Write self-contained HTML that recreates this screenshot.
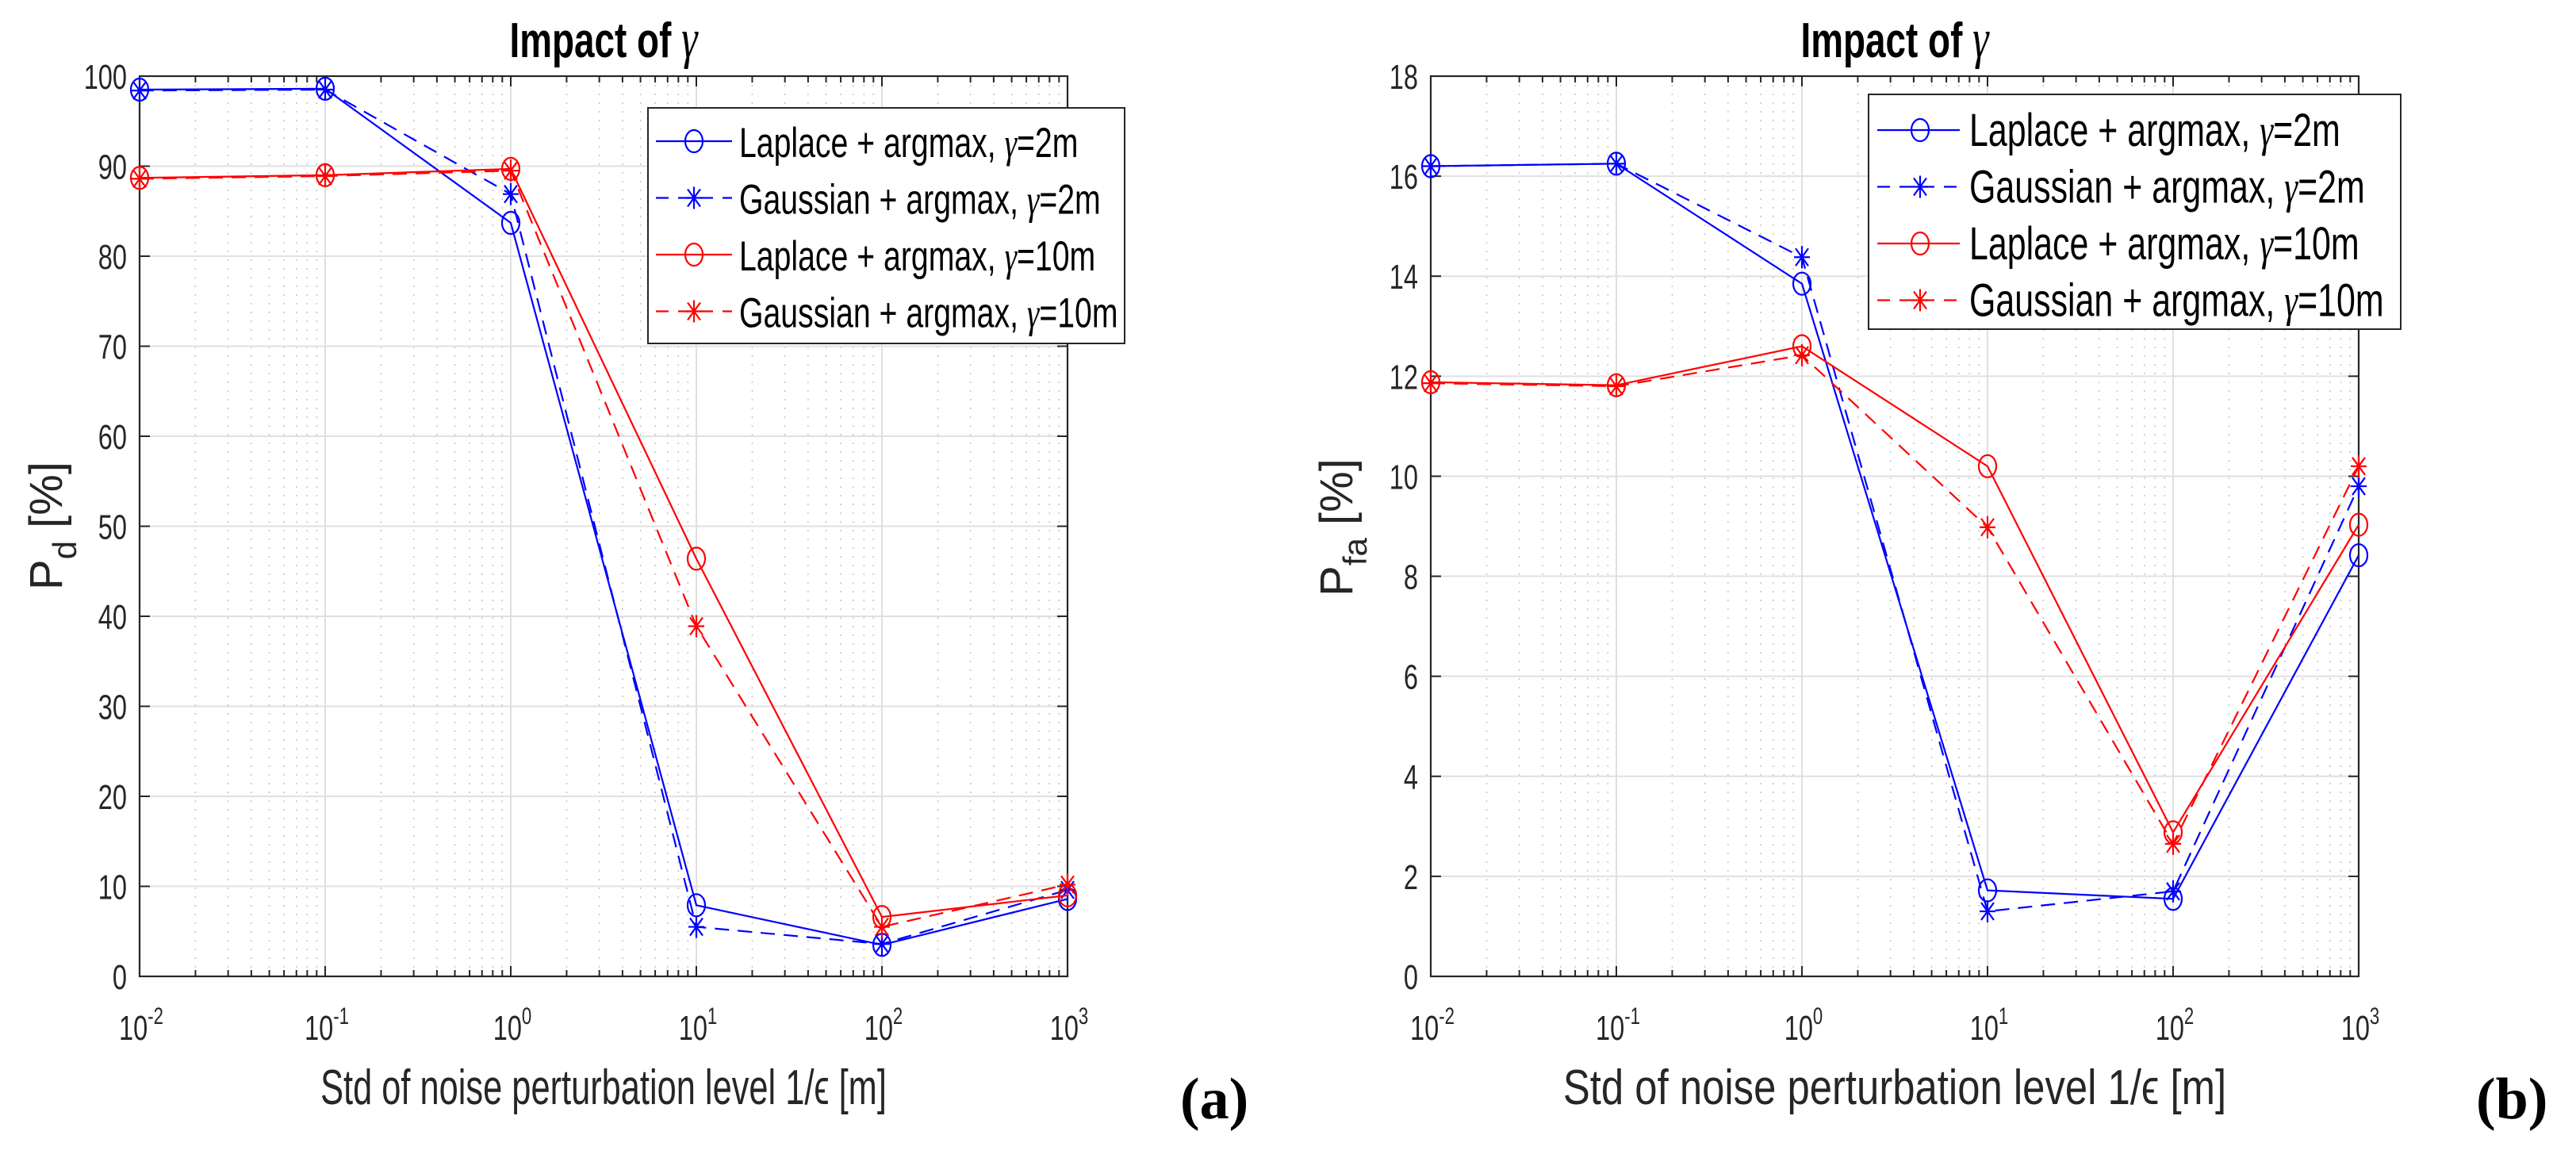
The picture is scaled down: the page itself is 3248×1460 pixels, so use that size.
<!DOCTYPE html>
<html><head><meta charset="utf-8"><style>
html,body{margin:0;padding:0;background:#fff;}
svg{display:block;font-family:"Liberation Sans",sans-serif;}
</style></head><body>
<svg id="fig" width="3248" height="1460" viewBox="0 0 3248 1460" xmlns="http://www.w3.org/2000/svg"></svg>
<script>
// ---- data ----
const xValues = [0.01, 0.1, 1, 10, 100, 1000];
const xTickExps = ["-2", "-1", "0", "1", "2", "3"];
const seriesNames = ["Laplace + argmax, ", "Gaussian + argmax, ", "Laplace + argmax, ", "Gaussian + argmax, "];
const seriesGammas = ["=2m", "=2m", "=10m", "=10m"];
const pdLaplace2 = [98.5, 98.6, 83.7, 7.9, 3.5, 8.6];
const pdGauss2 = [98.4, 98.5, 86.9, 5.5, 3.6, 9.6];
const pdLaplace10 = [88.7, 89.0, 89.7, 46.4, 6.6, 9.0];
const pdGauss10 = [88.6, 88.9, 89.5, 38.9, 5.5, 10.2];
const pfaLaplace2 = [16.2, 16.25, 13.85, 1.72, 1.55, 8.42];
const pfaGauss2 = [16.2, 16.25, 14.38, 1.3, 1.7, 9.8];
const pfaLaplace10 = [11.88, 11.82, 12.6, 10.2, 2.88, 9.03];
const pfaGauss10 = [11.86, 11.8, 12.42, 8.98, 2.65, 10.2];
const pdTicks = [0, 10, 20, 30, 40, 50, 60, 70, 80, 90, 100];
const pfaTicks = [0, 2, 4, 6, 8, 10, 12, 14, 16, 18];

const NS = "http://www.w3.org/2000/svg";
const svg = document.getElementById("fig");
function mk(tag, attrs, parent) {
  const e = document.createElementNS(NS, tag);
  for (const k in attrs) e.setAttribute(k, attrs[k]);
  (parent || svg).appendChild(e);
  return e;
}
const styles = [
  {color: "#0000ff", dash: null, marker: "o"},
  {color: "#0000ff", dash: "18,11", marker: "*"},
  {color: "#ff0000", dash: null, marker: "o"},
  {color: "#ff0000", dash: "18,11", marker: "*"}
];
function marker(g, type, cx, cy, color) {
  if (type === "o") {
    const m = mk("ellipse", {cx: cx, cy: cy, rx: 11, ry: 14, fill: "none", stroke: color, "stroke-width": 2.2}, g);
    
    
  } else {
    const d = `M${cx-10},${cy}L${cx+10},${cy}M${cx},${cy-14}L${cx},${cy+14}M${cx-8},${cy-11}L${cx+8},${cy+11}M${cx-8},${cy+11}L${cx+8},${cy-11}`;
    const m = mk("path", {d: d, fill: "none", stroke: color, "stroke-width": 2.2}, g);
    
    
  }
}
function gammaSpan(parent) {
  const s = mk("tspan", {"font-family": "Liberation Serif, serif", "font-style": "italic"}, parent);
  s.textContent = "\u03b3";
  return s;
}
function drawPanel(cfg) {
  const g = mk("g", {});
  
  
  const x0 = cfg.x0, x1 = cfg.x1, y0 = 96, y1 = 1231;
  const dec = (x1 - x0) / 5;
  const X = v => x0 + (Math.log10(v) + 2) * dec;
  const Y = v => y1 - (v / cfg.ymax) * (y1 - y0);
  for (let e = -2; e < 3; e++) for (let k = 2; k <= 9; k++) {
    const xx = X(k * Math.pow(10, e));
    const l = mk("line", {x1: xx, x2: xx, y1: y0, y2: y1, stroke: "#c4c4c4", "stroke-width": 1.5, "stroke-dasharray": "2,9"}, g);
    
    
    for (const yy of [[y1, y1 - 8], [y0, y0 + 8]]) {
      const t = mk("line", {x1: xx, x2: xx, y1: yy[0], y2: yy[1], stroke: "#262626", "stroke-width": 2}, g);
      
      
    }
  }
  xValues.forEach((v, i) => {
    const xx = X(v);
    const l = mk("line", {x1: xx, x2: xx, y1: y0, y2: y1, stroke: "#e0e0e0", "stroke-width": 2}, g);
    
    
    for (const yy of [[y1, y1 - 13], [y0, y0 + 13]]) {
      const t = mk("line", {x1: xx, x2: xx, y1: yy[0], y2: yy[1], stroke: "#262626", "stroke-width": 2}, g);
      
      
    }
    const tx = mk("text", {transform: `translate(${xx + 2},1311) scale(0.74,1)`, "text-anchor": "middle", "font-size": 44, fill: "#262626"}, g);
    
    
    tx.appendChild(document.createTextNode("10"));
    const sp = mk("tspan", {dy: -20, "font-size": 30}, tx);
    sp.textContent = xTickExps[i];
  });
  cfg.ticks.forEach(v => {
    const yy = Y(v);
    if (v > 0 && v < cfg.ymax) {
      const l = mk("line", {x1: x0, x2: x1, y1: yy, y2: yy, stroke: "#e0e0e0", "stroke-width": 2}, g);
      
      
    }
    for (const xx of [[x0, x0 + 13], [x1, x1 - 13]]) {
      const t = mk("line", {x1: xx[0], x2: xx[1], y1: yy, y2: yy, stroke: "#262626", "stroke-width": 2}, g);
      
      
    }
    const tx = mk("text", {transform: `translate(${x0 - 16},${yy + 16}) scale(0.74,1)`, "text-anchor": "end", "font-size": 44, fill: "#262626"}, g);
    
    
    tx.textContent = v;
  });
  const fr = mk("rect", {x: x0, y: y0, width: x1 - x0, height: y1 - y0, fill: "none", stroke: "#262626", "stroke-width": 2.2}, g);
  
  
  cfg.series.forEach((arr, si) => {
    const st = styles[si];
    const sg = mk("g", {}, g);
    
    
    const pts = arr.map((v, i) => `${X(xValues[i])},${Y(v)}`).join(" ");
    const pl = mk("polyline", {points: pts, fill: "none", stroke: st.color, "stroke-width": 2.2}, sg);
    if (st.dash) pl.setAttribute("stroke-dasharray", st.dash);
    
    
    arr.forEach((v, i) => marker(sg, st.marker, X(xValues[i]), Y(v), st.color));
  });
  const L = cfg.leg;
  const lg = mk("g", {}, g);
  
  
  const lr = mk("rect", {x: L.x, y: L.y, width: L.w, height: L.h, fill: "#fff", stroke: "#262626", "stroke-width": 2}, lg);
  
  
  seriesNames.forEach((nm, si) => {
    const st = styles[si];
    const cy = L.y + L.r0 + si * 71.5;
    const ln = mk("line", {x1: L.x + L.l0, x2: L.x + L.l1, y1: cy, y2: cy, stroke: st.color, "stroke-width": 2.2}, lg);
    if (st.dash) ln.setAttribute("stroke-dasharray", "16,12");
    
    
    marker(lg, st.marker, L.x + L.m, cy, st.color);
    const tx = mk("text", {transform: `translate(${L.x + L.t},${cy + 20}) scale(0.74,1)`, "font-size": L.fs, fill: "#000"}, lg);
    
    
    tx.appendChild(document.createTextNode(nm));
    gammaSpan(tx);
    tx.appendChild(document.createTextNode(seriesGammas[si]));
  });
  const tt = mk("text", {transform: `translate(${(x0 + x1) / 2},72) scale(0.74,1)`, "text-anchor": "middle", "font-size": 62, "font-weight": "bold", fill: "#000"}, g);
  
  
  tt.appendChild(document.createTextNode("Impact of "));
  const tg = gammaSpan(tt);
  tg.setAttribute("font-weight", "normal");
  tg.setAttribute("font-size", 70);
  const xl = mk("text", {transform: `translate(${(x0 + x1) / 2},1392) scale(${cfg.xlsx},1)`, "text-anchor": "middle", "font-size": 62, fill: "#262626"}, g);
  
  
  xl.textContent = "Std of noise perturbation level 1/\u03f5 [m]";
  const yl = mk("text", {transform: `translate(${cfg.ylx},${cfg.yly}) rotate(-90)`, "text-anchor": "middle", "font-size": 58, fill: "#262626"}, g);
  
  
  yl.appendChild(document.createTextNode("P"));
  const sub = mk("tspan", {dy: 18, "font-size": 42}, yl);
  sub.textContent = cfg.sub;
  const rest = mk("tspan", {dy: -18}, yl);
  rest.textContent = cfg.gap + "[%]";
  const pl = mk("text", {x: cfg.lx, y: 1410, "font-size": 74, "font-weight": "bold", "font-family": "Liberation Serif, serif", fill: "#000"}, g);
  
  
  pl.textContent = cfg.letter;
}
drawPanel({name: "panel-a-pd", x0: 176, x1: 1346, ymax: 100, ticks: pdTicks,
  series: [pdLaplace2, pdGauss2, pdLaplace10, pdGauss10],
  leg: {x: 817, y: 136, w: 601, h: 297, r0: 42, l0: 10, l1: 106, m: 58, t: 115, fs: 53},
  xlsx: 0.70, ylx: 78, yly: 663, sub: "d", gap: " ", lx: 1488, letter: "(a)"});
drawPanel({name: "panel-b-pfa", x0: 1804, x1: 2974, ymax: 18, ticks: pfaTicks,
  series: [pfaLaplace2, pfaGauss2, pfaLaplace10, pfaGauss10],
  leg: {x: 2356, y: 119, w: 671, h: 296, r0: 45, l0: 11, l1: 115, m: 65, t: 127, fs: 58},
  xlsx: 0.82, ylx: 1705, yly: 665, sub: "fa", gap: "  ", lx: 3122, letter: "(b)"});
</script>
</body></html>
